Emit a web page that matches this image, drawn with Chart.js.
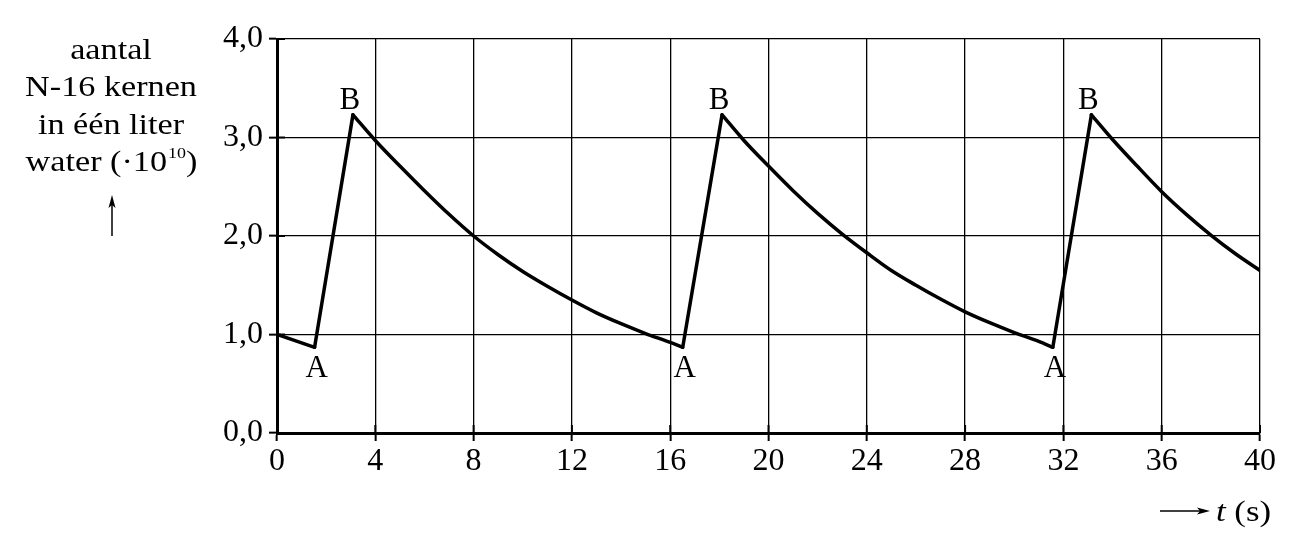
<!DOCTYPE html>
<html>
<head>
<meta charset="utf-8">
<script src="https://cdn.jsdelivr.net/npm/chart.js@4.4.1/dist/chart.umd.min.js"></script>
<style>
  html, body { margin: 0; padding: 0; background: #fff; }
  #wrap { position: relative; width: 1296px; height: 552px; }
</style>
</head>
<body>
<div id="wrap"><canvas id="chart"></canvas></div>
<script>
// time (s) and number of N-16 nuclei per litre (x 10^10)
const times = [
  0, 1.53, 3.09, 4, 5, 6, 7, 8, 9, 10, 11, 12, 13, 14, 15, 16, 16.51,
  18.11, 19, 20, 21, 22, 23, 24, 25, 26, 27, 28, 29, 30, 31, 31.57,
  33.14, 34, 35, 36, 37, 38, 39, 40
];
const counts = [
  1.00, 0.87, 3.23, 2.97, 2.71, 2.46, 2.22, 2.00, 1.81, 1.64, 1.49, 1.35, 1.22, 1.11, 1.01, 0.92, 0.87,
  3.23, 2.97, 2.71, 2.46, 2.23, 2.02, 1.83, 1.65, 1.50, 1.36, 1.23, 1.12, 1.02, 0.93, 0.87,
  3.23, 2.98, 2.71, 2.45, 2.22, 2.01, 1.82, 1.65
];
const xTicks = [0, 4, 8, 12, 16, 20, 24, 28, 32, 36, 40];
const yTicks = [0, 1, 2, 3, 4];
const yTitle = ["aantal", "N-16 kernen", "in één liter"];

const SERIF = '"Liberation Serif", "Times New Roman", serif';
const STRETCH = 1.2; // the original lettering is a little wider than Liberation Serif

// split the curve into rising (straight) and decaying (smooth) pieces
function buildRuns() {
  const runs = [];
  let start = 0;
  for (let i = 1; i < counts.length; i++) {
    const up = counts[i] > counts[i - 1];
    const last = i === counts.length - 1;
    if (last || (counts[i + 1] > counts[i]) !== up) {
      const pts = [];
      for (let k = start; k <= i; k++) pts.push({ x: times[k], y: counts[k] });
      runs.push({ up, pts });
      start = i;
    }
  }
  return runs;
}

function stretchedText(ctx, text, x, y, font, align) {
  ctx.save();
  ctx.font = font;
  const w = ctx.measureText(text).width * STRETCH;
  let left = x;
  if (align === 'center') left = x - w / 2;
  else if (align === 'right') left = x - w;
  ctx.translate(left, y);
  ctx.scale(STRETCH, 1);
  ctx.textAlign = 'left';
  ctx.fillText(text, 0, 0);
  ctx.restore();
  return w;
}

function textWidth(ctx, text, font) {
  ctx.save();
  ctx.font = font;
  const w = ctx.measureText(text).width * STRETCH;
  ctx.restore();
  return w;
}

function arrowHead(ctx, x, y, dir) {
  ctx.beginPath();
  if (dir === 'up') {
    ctx.moveTo(x, y);
    ctx.lineTo(x - 3.5, y + 13);
    ctx.lineTo(x, y + 10);
    ctx.lineTo(x + 3.5, y + 13);
  } else {
    ctx.moveTo(x, y);
    ctx.lineTo(x - 13, y - 3.5);
    ctx.lineTo(x - 10, y);
    ctx.lineTo(x - 13, y + 3.5);
  }
  ctx.closePath();
  ctx.fill();
}

const decor = {
  id: 'decor',
  afterDraw(chart) {
    const { ctx, chartArea } = chart;
    const xs = chart.scales.x, ys = chart.scales.y;
    ctx.save();
    ctx.strokeStyle = '#000';
    ctx.fillStyle = '#000';

    // tick stubs on the inside of the axes
    ctx.lineWidth = 2;
    yTicks.forEach(v => {
      const py = ys.getPixelForValue(v);
      ctx.beginPath();
      ctx.moveTo(chartArea.left, py);
      ctx.lineTo(chartArea.left + 8, py);
      ctx.stroke();
    });
    xTicks.forEach(v => {
      const px = xs.getPixelForValue(v);
      ctx.beginPath();
      ctx.moveTo(px, chartArea.bottom);
      ctx.lineTo(px, chartArea.bottom - 8);
      ctx.stroke();
    });

    // A / B markers at the turning points
    ctx.font = '31px ' + SERIF;
    ctx.textAlign = 'center';
    for (let i = 1; i < counts.length - 1; i++) {
      const px = xs.getPixelForValue(times[i]);
      const py = ys.getPixelForValue(counts[i]);
      if (counts[i] < counts[i - 1] && counts[i] < counts[i + 1]) {
        ctx.textBaseline = 'alphabetic';
        ctx.fillText('A', px + 2, py + 30);
      } else if (counts[i] > counts[i - 1] && counts[i] > counts[i + 1]) {
        ctx.textBaseline = 'alphabetic';
        ctx.fillText('B', px - 3, py - 6);
      }
    }

    // y axis title
    ctx.textBaseline = 'alphabetic';
    const tf = '28.5px ' + SERIF;
    const cx = 111;
    yTitle.forEach((t, k) => stretchedText(ctx, t, cx, 58.5 + k * 37.5, tf, 'center'));
    // last line with superscript exponent
    const supFont = '15px ' + SERIF;
    const wBase = textWidth(ctx, 'water (·10', tf);
    const wSup = textWidth(ctx, '10', supFont);
    const wClose = textWidth(ctx, ')', tf);
    let left = cx - (wBase + wSup + wClose) / 2;
    stretchedText(ctx, 'water (·10', left, 171, tf, 'left');
    stretchedText(ctx, '10', left + wBase + 1, 158, supFont, 'left');
    stretchedText(ctx, ')', left + wBase + wSup + 1, 171, tf, 'left');

    // upward arrow
    ctx.lineWidth = 1.5;
    ctx.beginPath();
    ctx.moveTo(112, 236);
    ctx.lineTo(112, 202);
    ctx.stroke();
    arrowHead(ctx, 112, 195, 'up');

    // x axis title
    ctx.beginPath();
    ctx.moveTo(1160, 511);
    ctx.lineTo(1203, 511);
    ctx.stroke();
    arrowHead(ctx, 1210, 511, 'right');
    const wt = stretchedText(ctx, 't', 1216, 521, 'italic 29px ' + SERIF, 'left');
    stretchedText(ctx, ' (s)', 1216 + wt, 521, '29px ' + SERIF, 'left');

    ctx.restore();
  }
};

const datasets = buildRuns().map(run => ({
  data: run.pts,
  borderColor: '#000',
  borderWidth: 3.5,
  borderCapStyle: 'round',
  borderJoinStyle: 'miter',
  pointRadius: 0,
  tension: run.up ? 0 : 0.4,
  cubicInterpolationMode: run.up ? 'default' : 'monotone',
  fill: false
}));

new Chart(document.getElementById('chart'), {
  type: 'line',
  data: { datasets },
  options: {
    responsive: true,
    maintainAspectRatio: false,
    animation: false,
    events: [],
    layout: { padding: { top: 39, right: 36, left: 0, bottom: 0 } },
    plugins: { legend: { display: false }, tooltip: { enabled: false } },
    scales: {
      x: {
        type: 'linear',
        min: 0,
        max: 40,
        afterBuildTicks: s => { s.ticks = xTicks.map(v => ({ value: v })); },
        afterFit: s => { s.height = 119; },
        ticks: {
          color: '#000',
          padding: 1,
          maxRotation: 0,
          font: { family: SERIF, size: 32 },
          callback: v => String(v)
        },
        grid: { color: '#000', lineWidth: 1.3, tickLength: 8, tickWidth: 2, tickColor: '#000' },
        border: { color: '#000', width: 3 }
      },
      y: {
        min: 0,
        max: 4,
        afterBuildTicks: s => { s.ticks = yTicks.map(v => ({ value: v })); },
        afterFit: s => { s.width = 277; },
        ticks: {
          color: '#000',
          padding: 6,
          font: { family: SERIF, size: 32 },
          callback: v => v.toFixed(1).replace('.', ',')
        },
        grid: { color: '#000', lineWidth: 1.3, tickLength: 8, tickWidth: 2, tickColor: '#000' },
        border: { color: '#000', width: 3 }
      }
    }
  },
  plugins: [decor]
});
</script>
</body>
</html>
